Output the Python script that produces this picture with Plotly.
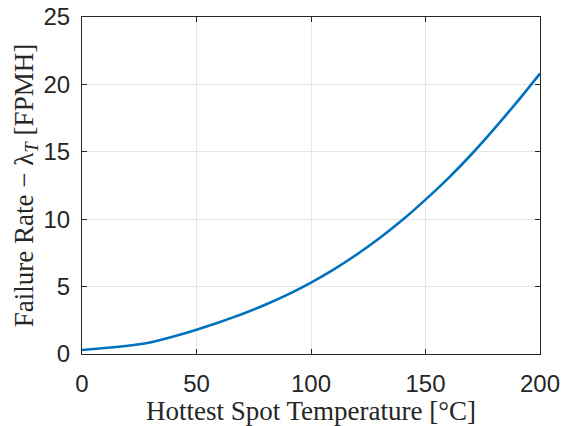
import plotly.graph_objects as go

temperature = [0, 10, 20, 28, 40, 50, 60, 70, 80, 90, 100, 110, 120, 130, 140, 150, 160, 170, 180, 190, 200]
failure_rate = [0.30, 0.44, 0.61, 0.80, 1.30, 1.80, 2.36, 2.97, 3.65, 4.42, 5.30, 6.28, 7.38, 8.60, 9.95,
                11.45, 13.05, 14.80, 16.70, 18.70, 20.80]

x_ticks = [0, 50, 100, 150, 200]
y_ticks = [0, 5, 10, 15, 20, 25]

fig = go.Figure()
fig.add_trace(go.Scatter(x=temperature, y=failure_rate, mode="lines",
                         line=dict(color="#0072BD", width=2.6, shape="spline", smoothing=0.5),
                         showlegend=False))

axis_common = dict(showline=True, linecolor="#262626", linewidth=1, mirror="ticks",
                   ticks="inside", ticklen=5, tickcolor="#262626",
                   showgrid=True, gridcolor="#e6e6e6", gridwidth=1, zeroline=False,
                   automargin=False,
                   tickfont=dict(family="Liberation Sans, Arial", size=24, color="#262626"))

title_font = dict(family="Liberation Serif, DejaVu Serif", size=27, color="#262626")

fig.update_xaxes(range=[0, 200], tickvals=x_ticks, ticklabelstandoff=8,
                 title=dict(text="Hottest Spot Temperature [°C]", font=title_font, standoff=7),
                 **axis_common)
fig.update_yaxes(range=[0, 25], tickvals=y_ticks, ticklabelstandoff=6,
                 title=dict(text="Failure Rate − λ<sub><i>T</i></sub> [FPMH]", font=title_font, standoff=2),
                 **axis_common)

fig.update_layout(width=562, height=426, margin=dict(l=82, r=22, t=17, b=72),
                  paper_bgcolor="white", plot_bgcolor="white")

fig.write_html("out.html")
